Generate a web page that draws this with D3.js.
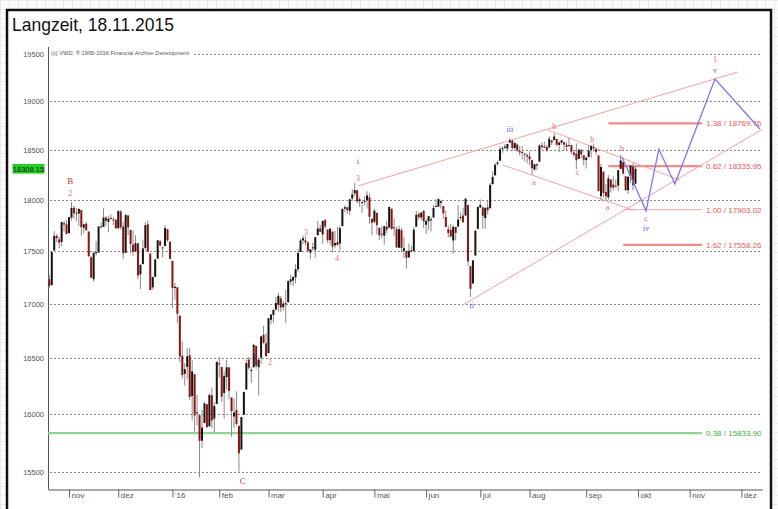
<!DOCTYPE html>
<html><head><meta charset="utf-8">
<script src="https://cdn.jsdelivr.net/npm/d3@7"></script>
<style>body{margin:0;background:#fff;overflow:hidden} svg{display:block}</style>
</head><body><svg id="c" width="778" height="509"></svg>
<script>
// ---------- DATA ----------
const title = "Langzeit, 18.11.2015";
const sourceNote = "(c) VWD, \u00ae 1995-2016 Financial Archive Development";
const lastPrice = 18308.15;
const dates = ["2015-10-21","2015-10-22","2015-10-23","2015-10-26","2015-10-27","2015-10-28","2015-10-29","2015-10-30",
"2015-11-02","2015-11-03","2015-11-04","2015-11-05","2015-11-06","2015-11-09","2015-11-10","2015-11-11","2015-11-12","2015-11-13","2015-11-16","2015-11-17","2015-11-18","2015-11-19","2015-11-20","2015-11-23","2015-11-24","2015-11-25","2015-11-27","2015-11-30",
"2015-12-01","2015-12-02","2015-12-03","2015-12-04","2015-12-07","2015-12-08","2015-12-09","2015-12-10","2015-12-11","2015-12-14","2015-12-15","2015-12-16","2015-12-17","2015-12-18","2015-12-21","2015-12-22","2015-12-23","2015-12-24","2015-12-28","2015-12-29","2015-12-30","2015-12-31",
"2016-01-04","2016-01-05","2016-01-06","2016-01-07","2016-01-08","2016-01-11","2016-01-12","2016-01-13","2016-01-14","2016-01-15","2016-01-19","2016-01-20","2016-01-21","2016-01-22","2016-01-25","2016-01-26","2016-01-27","2016-01-28","2016-01-29",
"2016-02-01","2016-02-02","2016-02-03","2016-02-04","2016-02-05","2016-02-08","2016-02-09","2016-02-10","2016-02-11","2016-02-12","2016-02-16","2016-02-17","2016-02-18","2016-02-19","2016-02-22","2016-02-23","2016-02-24","2016-02-25","2016-02-26","2016-02-29",
"2016-03-01","2016-03-02","2016-03-03","2016-03-04","2016-03-07","2016-03-08","2016-03-09","2016-03-10","2016-03-11","2016-03-14","2016-03-15","2016-03-16","2016-03-17","2016-03-18","2016-03-21","2016-03-22","2016-03-23","2016-03-24","2016-03-28","2016-03-29","2016-03-30","2016-03-31",
"2016-04-01","2016-04-04","2016-04-05","2016-04-06","2016-04-07","2016-04-08","2016-04-11","2016-04-12","2016-04-13","2016-04-14","2016-04-15","2016-04-18","2016-04-19","2016-04-20","2016-04-21","2016-04-22","2016-04-25","2016-04-26","2016-04-27","2016-04-28","2016-04-29",
"2016-05-02","2016-05-03","2016-05-04","2016-05-05","2016-05-06","2016-05-09","2016-05-10","2016-05-11","2016-05-12","2016-05-13","2016-05-16","2016-05-17","2016-05-18","2016-05-19","2016-05-20","2016-05-23","2016-05-24","2016-05-25","2016-05-26","2016-05-27","2016-05-31",
"2016-06-01","2016-06-02","2016-06-03","2016-06-06","2016-06-07","2016-06-08","2016-06-09","2016-06-10","2016-06-13","2016-06-14","2016-06-15","2016-06-16","2016-06-17","2016-06-20","2016-06-21","2016-06-22","2016-06-23","2016-06-24","2016-06-27","2016-06-28","2016-06-29","2016-06-30",
"2016-07-01","2016-07-05","2016-07-06","2016-07-07","2016-07-08","2016-07-11","2016-07-12","2016-07-13","2016-07-14","2016-07-15","2016-07-18","2016-07-19","2016-07-20","2016-07-21","2016-07-22","2016-07-25","2016-07-26","2016-07-27","2016-07-28","2016-07-29",
"2016-08-01","2016-08-02","2016-08-03","2016-08-04","2016-08-05","2016-08-08","2016-08-09","2016-08-10","2016-08-11","2016-08-12","2016-08-15","2016-08-16","2016-08-17","2016-08-18","2016-08-19","2016-08-22","2016-08-23","2016-08-24","2016-08-25","2016-08-26","2016-08-29","2016-08-30","2016-08-31",
"2016-09-01","2016-09-02","2016-09-06","2016-09-07","2016-09-08","2016-09-09","2016-09-12","2016-09-13","2016-09-14","2016-09-15","2016-09-16","2016-09-19","2016-09-20","2016-09-21","2016-09-22","2016-09-23","2016-09-26","2016-09-27","2016-09-28","2016-09-29","2016-09-30"];
const open = [17230,17174,17505,17646,17612,17587,17769,17758,
17672,17824,17921,17869,17864,17898,17725,17764,17688,17439,17231,17486,17485,17739,17732,17823,17784,17820,17806,17802,
17719,17883,17736,17482,17845,17703,17561,17495,17574,17277,17374,17530,17758,17475,17154,17253,17427,17593,17535,17547,17711,17590,
17405,17147,17154,16889,16520,16358,16420,16526,16160,16354,16009,15990,15768,15921,16086,15893,16168,15960,16090,
16452,16420,16187,16329,16416,16147,15979,16036,15897,15691,15994,16217,16487,16391,16417,16610,16418,16504,16712,16634,
16545,16851,16896,16945,16991,17050,16969,17006,17014,17207,17218,17249,17325,17490,17602,17602,17582,17484,17526,17512,17652,17717,
17661,17799,17708,17605,17687,17555,17586,17571,17741,17912,17925,17890,18012,18063,18093,17985,17977,17979,17994,18023,17813,
17783,17871,17725,17667,17648,17735,17726,17911,17731,17711,17531,17701,17501,17501,17437,17507,17498,17735,17859,17826,17891,
17754,17789,17799,17825,17936,17931,17969,17938,17830,17710,17703,17602,17733,17736,17827,17844,17844,17947,17355,17190,17456,17713,
17924,17925,17819,17925,17915,18154,18242,18358,18390,18510,18522,18513,18575,18593,18517,18554,18490,18478,18461,18446,
18434,18395,18301,18342,18380,18545,18528,18528,18524,18596,18600,18611,18550,18574,18578,18551,18539,18547,18474,18460,18408,18496,18444,
18396,18426,18498,18523,18509,18443,18035,18280,18077,18023,18200,18150,18140,18140,18308,18376,18233,18094,18232,18330,18158];
const high = [17274,17500,17690,17662,17638,17781,17790,17799,
17831,17977,17938,17921,17911,17898,17766,17783,17688,17451,17484,17596,17738,17777,17914,17841,17837,17855,17830,17810,
17895,17901,17784,17862,17845,17703,17700,17652,17574,17370,17608,17778,17797,17476,17254,17425,17606,17606,17536,17750,17714,17590,
17405,17195,17154,16889,16651,16453,16592,16593,16482,16354,16171,15990,16038,16109,16086,16185,16235,16102,16466,
16510,16420,16381,16485,16416,16147,16136,16201,15897,15974,16196,16486,16515,16418,16631,16610,16507,16698,16796,16726,
16866,16900,16944,17062,17099,17072,17027,17130,17220,17276,17259,17374,17518,17620,17651,17645,17597,17516,17580,17633,17790,17755,
17793,17811,17708,17716,17687,17694,17731,17744,17916,17945,17925,18009,18103,18168,18094,18026,17977,18035,18084,18062,17813,
17911,17871,17725,17743,17745,17791,17935,17911,17817,17736,17745,17721,17636,17501,17571,17550,17734,17891,17877,17873,17899,
17809,17838,17833,17949,18003,18016,17999,17938,17893,17744,17762,17754,17733,17946,17877,17920,18011,17947,17355,17409,17704,17930,
18002,17925,17926,17986,18167,18283,18370,18392,18536,18537,18557,18560,18622,18606,18571,18566,18536,18539,18467,18464,
18485,18402,18357,18364,18556,18575,18584,18549,18638,18596,18668,18611,18588,18600,18578,18575,18622,18552,18502,18566,18505,18512,18444,
18434,18545,18549,18565,18514,18443,18358,18280,18156,18244,18200,18232,18201,18299,18449,18376,18233,18231,18344,18366,18341];
const low = [17150,17174,17505,17584,17526,17543,17686,17663,
17672,17796,17810,17787,17742,17646,17669,17694,17447,17245,17210,17456,17485,17718,17732,17744,17681,17803,17750,17714,
17719,17707,17424,17482,17651,17475,17453,17495,17230,17138,17374,17507,17494,17128,17136,17253,17427,17543,17437,17547,17588,17421,
16958,17038,16817,16464,16314,16250,16309,16123,15944,15843,15900,15451,15704,15921,15880,15893,15878,15843,16090,
16323,16108,15960,16217,16129,15803,15881,15899,15503,15691,15994,16217,16396,16275,16417,16403,16165,16448,16629,16510,
16545,16808,16820,16943,16924,16921,16933,16821,17014,17176,17163,17187,17297,17490,17567,17553,17490,17419,17501,17434,17652,17684,
17569,17716,17577,17562,17484,17528,17555,17503,17741,17877,17859,17848,17984,18033,17963,17928,17871,17944,17912,17764,17652,
17773,17660,17607,17624,17561,17672,17726,17711,17646,17528,17531,17487,17432,17331,17437,17491,17498,17735,17804,17800,17724,
17664,17703,17689,17825,17936,17931,17912,17812,17733,17629,17629,17471,17602,17736,17799,17770,17844,17357,17063,17190,17456,17711,
17917,17713,17713,17853,17915,18154,18242,18337,18390,18470,18502,18484,18568,18491,18504,18478,18441,18401,18383,18362,
18345,18250,18289,18294,18380,18503,18520,18480,18524,18549,18600,18541,18478,18552,18498,18487,18539,18454,18429,18302,18408,18412,18342,
18310,18426,18422,18481,18451,18085,17992,18020,17995,17999,18072,18093,18119,18083,18308,18249,18088,18058,18166,18090,18158];
const close = [17168,17489,17646,17623,17581,17780,17756,17664,
17829,17918,17867,17863,17910,17731,17758,17702,17448,17245,17484,17489,17737,17732,17824,17792,17813,17813,17798,17720,
17888,17730,17478,17848,17730,17568,17493,17575,17265,17368,17525,17750,17495,17128,17252,17418,17603,17553,17528,17721,17604,17425,
17149,17159,16907,16515,16347,16399,16516,16151,16380,15988,16016,15767,15882,16094,15886,16168,15944,16070,16466,
16449,16154,16337,16417,16205,16027,16014,15914,15660,15974,16196,16454,16413,16392,16620,16431,16485,16698,16640,16517,
16866,16900,16944,17007,17074,16964,17001,16995,17213,17230,17252,17326,17481,17602,17623,17583,17503,17516,17535,17633,17717,17685,
17792,17737,17603,17716,17542,17577,17556,17721,17908,17926,17897,18004,18053,18096,17983,18004,17977,17990,18042,17831,17774,
17892,17751,17652,17661,17740,17706,17928,17711,17720,17535,17711,17530,17527,17436,17501,17493,17706,17851,17828,17873,17787,
17790,17838,17807,17920,17938,18006,17985,17865,17733,17675,17640,17733,17675,17805,17830,17780,18011,17400,17140,17410,17695,17930,
17949,17841,17919,17896,18147,18227,18348,18372,18506,18517,18534,18560,18596,18518,18571,18493,18474,18473,18456,18432,
18404,18314,18355,18352,18543,18529,18533,18495,18613,18576,18636,18552,18573,18597,18553,18529,18547,18481,18448,18395,18502,18454,18400,
18419,18492,18538,18526,18479,18085,18326,18066,18034,18212,18123,18120,18130,18294,18392,18261,18094,18228,18339,18144,18308];

const yTicks = [15500,16000,16500,17000,17500,18000,18500,19000,19500];
const monthTickIdx = [8,28,50,69,89,111,132,153,175,195,218,239,260,281];
const monthLabels = ["nov","dez","'16","feb","mar","apr","mai","jun","jul","aug","sep","okt","nov","dez"];

// Fibonacci / target levels
const levelValues = [18769.76, 18335.95, 17903.02, 17558.26, 15833.90];
const levelLabels = ["1.38 / 18769.76","0.62 / 18335.95","1.00 / 17903.02","1.62 / 17558.26","0.38 / 15833.90"];
const levelStartIdx = [227, 227, 233, 233, -0.5];
const levelEndIdx = 265;
const levelKind = ["red","red","thin","red","green"];

// trend channel lines: [idx1, value1, idx2, value2]
const channelLines = [
  [125.3, 18136, 279.6, 19308],
  [167.5, 16983, 289.4, 18708],
  [202.5, 18703, 256.0, 18196],
  [184.2, 18346, 237.0, 17898]
];
// projected path (blue)
const projIdx = [232.5, 242.3, 247.5, 254.0, 270.3, 288.5];
const projVal = [18427, 17890, 18508, 18156, 19234, 18713];

// wave labels
const waveIdx = [8.5, 8.5, 83.1, 89.6, 104.2, 116.8, 125.3, 125.3, 171.5, 187, 196.8, 205, 214.5, 220.5, 226.7, 232.5, 242.3, 242.3, 270.3, 270.3];
const waveVal = [18186, 18066, 16576, 16466, 17683, 17433, 18385, 18215, 16990, 18715, 18176, 18740, 18276, 18610, 17930, 18519, 17820, 17722, 19446, 19329];
const waveText = ["B","2","1","2","3","4","i","3","ii","iii","a","b","c","b","a","b","c","iv","1","v"];
const waveKind = ["dark","pink","pink","pink","pink","pink","blue","pink","blue","blue","pink","pink","pink","pink","pink","pink","pink","blue","pink","blue"];
const extraLabelIdx = [78.5]; const extraLabelVal = [15420]; const extraLabelText = ["C"];

// ---------- CHART ----------
const svg = d3.select("#c");
const W = 778, H = 509;

// graph-paper background
const defs = svg.append("defs");
const pat = defs.append("pattern").attr("id","gp").attr("width",9).attr("height",9).attr("patternUnits","userSpaceOnUse");
pat.append("rect").attr("width",9).attr("height",9).attr("fill","#fbfbfb");
pat.append("path").attr("d","M9 0 L0 0 0 9").attr("fill","none").attr("stroke","#dcdcdc").attr("stroke-width",1);
svg.append("rect").attr("width",W).attr("height",H).attr("fill","url(#gp)");
svg.append("rect").attr("x",7).attr("y",10).attr("width",764).attr("height",H).attr("fill","#fff")
  .attr("stroke","#111").attr("stroke-width",2.5);

svg.append("text").attr("x",12).attr("y",31).text(title)
  .attr("font-family","Liberation Sans, Arial, sans-serif").attr("font-size",19)
  .attr("textLength",162).attr("lengthAdjust","spacingAndGlyphs").attr("fill","#111");

const x = d3.scaleLinear().domain([-0.53, 289.5]).range([48, 762.3]);
const y = d3.scaleLog().domain([15355, 19575]).range([489, 47]);
const font = "Liberation Sans, Arial, sans-serif";

// grid
svg.append("g").selectAll("line").data(yTicks).join("line")
  .attr("x1",50).attr("x2",762).attr("y1",d=>Math.round(y(d))+0.5).attr("y2",d=>Math.round(y(d))+0.5)
  .attr("stroke","#8a8a8a").attr("stroke-width",1).attr("stroke-dasharray","2,2");

// y axis
const yAx = svg.append("g").attr("transform","translate(48,0)")
  .call(d3.axisLeft(y).tickValues(yTicks).tickFormat(d3.format("d")).tickSize(0).tickPadding(4));
yAx.select(".domain").attr("stroke","#555").attr("d","M0.5,47V489.5");
yAx.selectAll("text").attr("font-family",font).attr("font-size",7.5).attr("fill","#555");

// x axis
const xAx = svg.append("g").attr("transform","translate(0,489.5)")
  .call(d3.axisBottom(x).tickValues(monthTickIdx).tickFormat((d,i)=>monthLabels[i]).tickSize(8).tickSizeOuter(0));
xAx.select(".domain").attr("stroke","#555");
xAx.selectAll(".tick line").attr("stroke","#666");
xAx.selectAll("text").attr("font-family",font).attr("font-size",8).attr("fill","#555")
  .attr("text-anchor","start").attr("dx",2).attr("y",3);

// source note
svg.append("rect").attr("x",50).attr("y",49).attr("width",142).attr("height",7).attr("fill","#fff");
svg.append("text").attr("x",51).attr("y",55).text(sourceNote)
  .attr("font-family",font).attr("font-size",5.5).attr("textLength",138).attr("lengthAdjust","spacingAndGlyphs").attr("fill","#555");

// level lines
const lvl = svg.append("g");
levelValues.forEach((v,i)=>{
  const k = levelKind[i];
  const col = k==="green" ? "#8fd68f" : (k==="thin" ? "#f6b3b3" : "#f28a8a");
  lvl.append("line").attr("x1",x(levelStartIdx[i])).attr("x2",x(levelEndIdx))
    .attr("y1",y(v)).attr("y2",y(v)).attr("stroke",col).attr("stroke-width",k==="thin"?1.3:2.2);
  lvl.append("text").attr("x",x(levelEndIdx)+4).attr("y",y(v)+3).text(levelLabels[i])
    .attr("font-family",font).attr("font-size",8)
    .attr("fill",k==="green" ? "#3fae3f" : "#ec5858");
});

// channel lines
svg.append("g").selectAll("line").data(channelLines).join("line")
  .attr("x1",d=>x(d[0])).attr("y1",d=>y(d[1])).attr("x2",d=>x(d[2])).attr("y2",d=>y(d[3]))
  .attr("stroke","#f5a3a3").attr("stroke-width",1);

// candles
const idx = d3.range(dates.length);
const cg = svg.append("g");
cg.selectAll("line").data(idx).join("line")
  .attr("x1",i=>x(i)).attr("x2",i=>x(i)).attr("y1",i=>y(high[i])).attr("y2",i=>y(low[i]))
  .attr("stroke","#8a8a8a").attr("stroke-width",1);
cg.selectAll("rect").data(idx).join("rect")
  .attr("x",i=>x(i)-1).attr("width",2)
  .attr("y",i=>y(Math.max(open[i],close[i])))
  .attr("height",i=>Math.max(1, Math.abs(y(open[i])-y(close[i]))))
  .attr("fill",i=>close[i]>=open[i] ? "#151515" : "#8e1414");

// projection path
svg.append("path").datum(d3.range(projIdx.length))
  .attr("d", d3.line().x(i=>x(projIdx[i])).y(i=>y(projVal[i])))
  .attr("fill","none").attr("stroke","#7b7bf0").attr("stroke-width",1.3);

// wave labels
const kindCol = {dark:"#b83a3a", pink:"#f06a6a", blue:"#5a5ae6"};
svg.append("g").selectAll("text").data(d3.range(waveText.length)).join("text")
  .attr("x",i=>x(waveIdx[i])).attr("y",i=>y(waveVal[i])+3).text(i=>waveText[i])
  .attr("text-anchor","middle").attr("font-family","Liberation Serif, serif")
  .attr("font-size",i=>waveKind[i]==="dark"?9:8).attr("fill",i=>kindCol[waveKind[i]]);
svg.append("g").selectAll("text").data(d3.range(extraLabelText.length)).join("text")
  .attr("x",i=>x(extraLabelIdx[i])).attr("y",i=>y(extraLabelVal[i])+3).text(i=>extraLabelText[i])
  .attr("text-anchor","middle").attr("font-family","Liberation Serif, serif")
  .attr("font-size",9).attr("fill","#b83a3a");

// last price box
const ly = y(lastPrice);
svg.append("rect").attr("x",12.5).attr("y",ly-4.8).attr("width",32).attr("height",9.6).attr("fill","#22d022");
svg.append("text").attr("x",28.5).attr("y",ly+3).text(lastPrice.toFixed(2))
  .attr("text-anchor","middle").attr("font-family",font).attr("font-size",7.5).attr("fill","#111");
</script></body></html>
